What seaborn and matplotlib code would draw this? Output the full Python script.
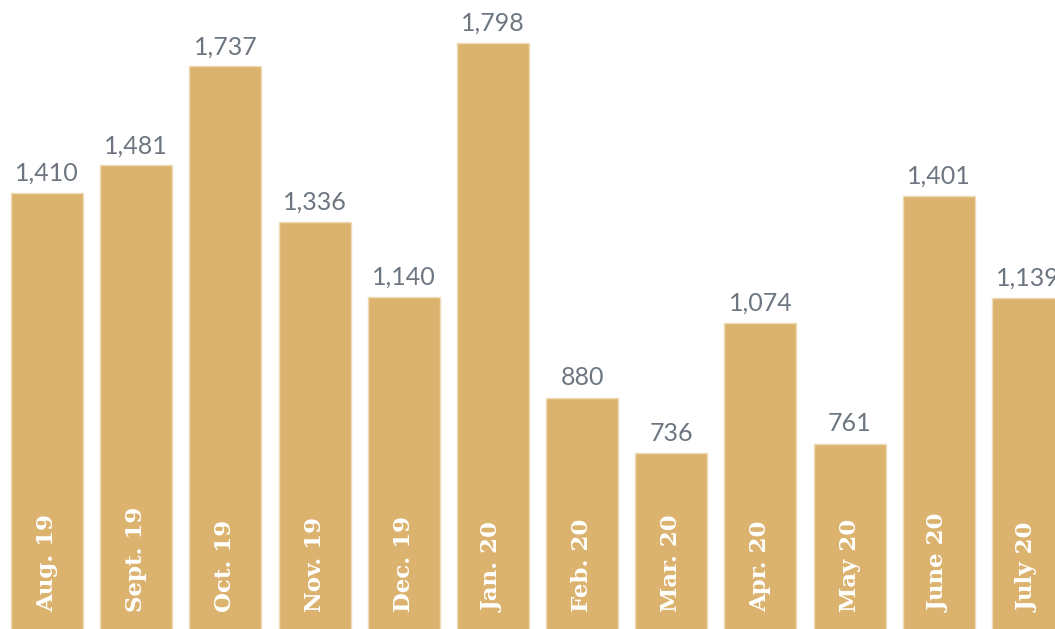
import matplotlib
matplotlib.use("Agg")
import matplotlib.pyplot as plt
import seaborn as sns
import pandas as pd

months = ["Aug. 19", "Sept. 19", "Oct. 19", "Nov. 19", "Dec. 19", "Jan. 20",
          "Feb. 20", "Mar. 20", "Apr. 20", "May 20", "June 20", "July 20"]
values = [1410, 1481, 1737, 1336, 1140, 1798, 880, 736, 1074, 761, 1401, 1139]

bar_color = "#DBB36F"
label_color = "#6D7680"

sns.set_theme(style="white")
plt.rcParams["font.family"] = ["Lato", "DejaVu Sans"]

df = pd.DataFrame({"month": months, "value": values})

fig = plt.figure(figsize=(10.55, 6.29), dpi=100)
ax = fig.add_axes([0, 0, 1, 1])
sns.barplot(data=df, x="month", y="value", color=bar_color, saturation=1,
            width=0.807, edgecolor="#EEDBB8", linewidth=1, ax=ax)

ax.set_xlim(-0.527, 11.303)
ax.set_ylim(282, 1909)
ax.axis("off")

for c in ax.containers:
    ax.bar_label(c, labels=[f"{v:,}" for v in values], padding=6,
                 fontsize=18, color=label_color, family="Lato")

for i, m in enumerate(months):
    ax.annotate(m, xy=(i, 0), xycoords=("data", "axes fraction"),
                xytext=(0, 12.5), textcoords="offset points",
                rotation=90, ha="center", va="bottom", color="white",
                fontsize=16.5, fontweight="bold", family="DejaVu Serif")

fig.savefig("out.png", dpi=100)
